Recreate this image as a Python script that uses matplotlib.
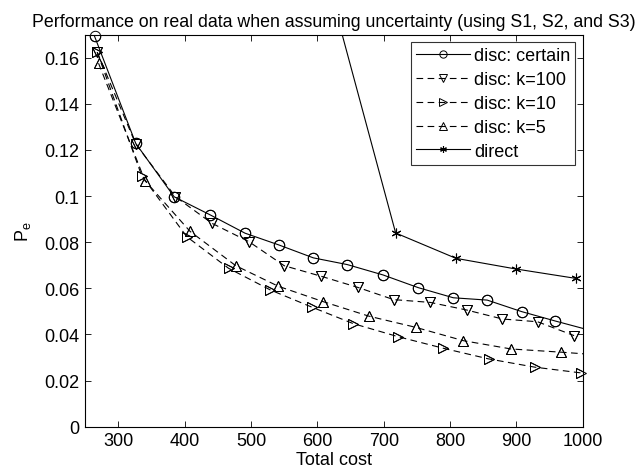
import matplotlib
matplotlib.use("Agg")
import matplotlib.pyplot as plt

plt.rcParams['font.family'] = ['Liberation Sans', 'DejaVu Sans']
plt.rcParams['mathtext.fontset'] = 'custom'
plt.rcParams['mathtext.rm'] = 'Liberation Sans'

# Data
certain_x = [264, 326, 384, 438, 491, 542, 594, 645, 699, 752, 805, 856, 908, 959, 1011]
certain_y = [0.1693, 0.1229, 0.0997, 0.0919, 0.0839, 0.0788, 0.0732, 0.0703,
             0.0658, 0.0603, 0.0559, 0.0549, 0.0499, 0.0458, 0.0418]

k100_x = [268, 326, 386, 441, 497, 550, 606, 661, 715, 770, 825, 879, 932, 987]
k100_y = [0.1624, 0.1226, 0.0997, 0.0882, 0.0802, 0.0698, 0.0652, 0.0604,
          0.0551, 0.0539, 0.0506, 0.0467, 0.0455, 0.0395]

k10_x = [268, 335, 403, 466, 529, 592, 654, 722, 790, 858, 928, 998]
k10_y = [0.1624, 0.1089, 0.0824, 0.0687, 0.0593, 0.0518, 0.0447, 0.0390,
         0.0340, 0.0294, 0.0258, 0.0233]

k5_x = [270, 340, 408, 477, 541, 609, 678, 748, 820, 892, 968, 1040]
k5_y = [0.1576, 0.1067, 0.0847, 0.0698, 0.0609, 0.0542, 0.0479, 0.0431,
        0.0373, 0.0337, 0.0323, 0.0308]

direct_x = [628, 718, 809, 899, 990]
direct_y = [0.180, 0.0840, 0.0730, 0.0684, 0.0643]

xticks = [300, 400, 500, 600, 700, 800, 900, 1000]
yticks = [0, 0.02, 0.04, 0.06, 0.08, 0.1, 0.12, 0.14, 0.16]
ytick_labels = ['0', '0.02', '0.04', '0.06', '0.08', '0.1', '0.12', '0.14', '0.16']

XMIN, XMAX, YMIN, YMAX = 250, 1000, 0, 0.17

fig = plt.figure(figsize=(6.35, 4.77), dpi=100)
ax = fig.add_axes([0.1343, 0.1034, 0.7833, 0.8218])

dash = (6, 4)
mk = dict(markersize=7.5, markerfacecolor='none', markeredgecolor='k',
          markeredgewidth=0.7, color='k', linewidth=0.8)

series = [
    (certain_x, certain_y, '-', 'o', 'disc: certain'),
    (k100_x, k100_y, '--', 'v', 'disc: k=100'),
    (k10_x, k10_y, '--', '>', 'disc: k=10'),
    (k5_x, k5_y, '--', '^', 'disc: k=5'),
]
for xs, ys, ls, m, lab in series:
    kw = dict(mk)
    if ls == '--':
        kw['dashes'] = dash
    ax.plot(xs, ys, ls, marker=m, label=lab, **kw)
    # markers are not clipped at the axes edge (MATLAB style)
    inside = [(x, y) for x, y in zip(xs, ys) if XMIN <= x <= XMAX and YMIN <= y <= YMAX]
    ax.plot([p[0] for p in inside], [p[1] for p in inside], linestyle='none',
            marker=m, clip_on=False, label='_nolegend_', **{k: v for k, v in mk.items() if k != 'linewidth'})

ax.plot(direct_x, direct_y, '-', marker=(6, 2, 0), label='direct',
        color='k', markersize=7, markeredgewidth=0.8, linewidth=0.8)

ax.set_xlim(XMIN, XMAX)
ax.set_ylim(YMIN, YMAX)
ax.set_xticks(xticks)
ax.set_yticks(yticks)
ax.set_yticklabels(ytick_labels)
ax.tick_params(direction='in', top=True, right=True, labelsize=13, length=4, width=0.6, pad=4)
for s in ax.spines.values():
    s.set_linewidth(0.8)

ax.set_xlabel('Total cost', fontsize=13, labelpad=1)
ax.set_ylabel(r'P$_\mathregular{e}$', fontsize=13)
ax.yaxis.set_label_coords(-0.105, 0.5)
ax.set_title('Performance on real data when assuming uncertainty (using S1, S2, and S3)',
             fontsize=12.8, pad=6)

leg = ax.legend(loc='upper right', fontsize=13, handlelength=3.0, frameon=True,
                fancybox=False, edgecolor='k', borderaxespad=0.4, markerscale=0.7,
                labelspacing=0.38, handletextpad=0.2, borderpad=0.3)
leg.get_frame().set_linewidth(0.8)

fig.savefig('out.png', dpi=100)
